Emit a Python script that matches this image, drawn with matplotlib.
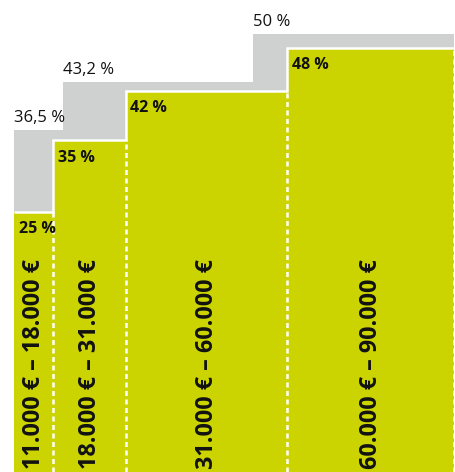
import matplotlib
matplotlib.use('Agg')
import matplotlib.pyplot as plt

# Einkommensgrenzen in Tausend Euro und Steuersätze
edges = [11, 18, 31, 60, 90]
rates = [25, 35, 42, 48]
rate_labels = ["25 %", "35 %", "42 %", "48 %"]
bracket_labels = ["11.000 € – 18.000 €", "18.000 € – 31.000 €",
                  "31.000 € – 60.000 €", "60.000 € – 90.000 €"]

# Vergleich (graue Stufen)
old_edges = [11, 19.7, 53.8, 90]
old_rates = [36.5, 43.2, 50]
old_labels = ["36,5 %", "43,2 %", "50 %"]

GREEN = '#cbd400'
GREY = '#cfd0d0'
TEXT = '#111111'
FONT = ['Open Sans', 'DejaVu Sans']

fig = plt.figure(figsize=(4.55, 4.72), dpi=100)
ax = fig.add_axes([0, 0, 1, 1])
ymin, ymax = -11.5, 54.7
ax.set_xlim(8.4, 90.1)
ax.set_ylim(ymin, ymax)
ax.axis('off')

# graue Stufen im Hintergrund
ax.stairs(old_rates, old_edges, baseline=ymin, fill=True, color=GREY, zorder=1)

# grüne Balken
ax.stairs(rates, edges, baseline=ymin, fill=True, color=GREEN, zorder=2)
ax.stairs(rates, edges, baseline=None, color='white', linewidth=1.8, zorder=3)

# gestrichelte Trennlinien
tops = []
for i in range(1, len(edges)):
    if i < len(rates):
        tops.append(min(rates[i - 1], rates[i]))
    else:
        tops.append(rates[-1])
ax.vlines(edges[1:], ymin, tops, colors='white', linewidth=1.8,
          linestyles=(0, (2.0, 1.4)), zorder=3)

# Beschriftungen
for i, lab in enumerate(old_labels):
    ax.annotate(lab, xy=(old_edges[i], old_rates[i]), xytext=(0, 5.5),
                textcoords='offset points', ha='left', va='baseline',
                fontsize=12, color=TEXT, family=FONT, zorder=4)

for i, lab in enumerate(rate_labels):
    ax.annotate(lab, xy=(edges[i], rates[i]), xytext=(3, -15.5),
                textcoords='offset points', ha='left', va='baseline',
                fontsize=11.5, fontweight='bold', color=TEXT, family=FONT, zorder=4)

for i, lab in enumerate(bracket_labels):
    xc = (edges[i] + edges[i + 1]) / 2
    ax.annotate(lab, xy=(xc, ymin), xytext=(0, 2),
                textcoords='offset points', ha='center', va='bottom',
                rotation=90, fontsize=16.8, fontweight='bold', color=TEXT,
                family=FONT, zorder=4)

fig.savefig('out.png', dpi=100)
